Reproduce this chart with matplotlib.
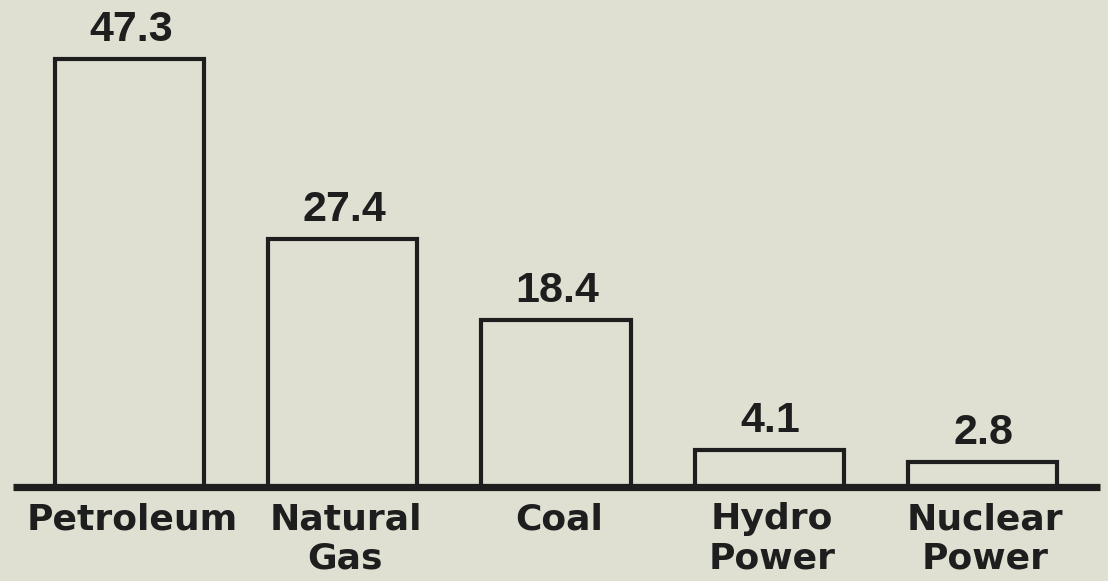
import matplotlib.pyplot as plt
import numpy as np

# bar chart: share of energy by source
categories = ['Petroleum', 'Natural\nGas', 'Coal', 'Hydro\nPower', 'Nuclear\nPower']
values = [47.3, 27.4, 18.4, 4.1, 2.8]
value_labels = ['47.3', '27.4', '18.4', '4.1', '2.8']

bg = '#dfe0d2'
ink = '#1e1e1e'

fig = plt.figure(figsize=(11.08, 5.81), dpi=100, facecolor=bg)
ax = fig.add_axes([0, 0, 1, 1])
ax.set_facecolor(bg)

x = np.arange(len(categories))
ax.bar(x, values, width=0.70, color=bg, edgecolor=ink, linewidth=3, zorder=2)

# thick base line
ax.plot([-0.548, 4.55], [0, 0], color=ink, lw=5.2, solid_capstyle='butt', zorder=3)

for xi, v, lab in zip(x, values, value_labels):
    ax.annotate(lab, (xi, v), xytext=(1, 13), textcoords='offset points',
                ha='center', va='baseline', fontsize=31, fontweight='bold',
                family='Liberation Sans', color=ink)

for xi, cat in zip(x, categories):
    ax.annotate(cat, (xi, 0), xytext=(2, -11), textcoords='offset points',
                ha='center', va='top', fontsize=26, fontweight='bold',
                family='DejaVu Sans', color=ink, linespacing=1.18)

ax.set_xlim(-0.607, 4.589)
ax.set_ylim(-10.39, 53.81)
ax.axis('off')

fig.savefig('out.png', dpi=100, facecolor=bg)
